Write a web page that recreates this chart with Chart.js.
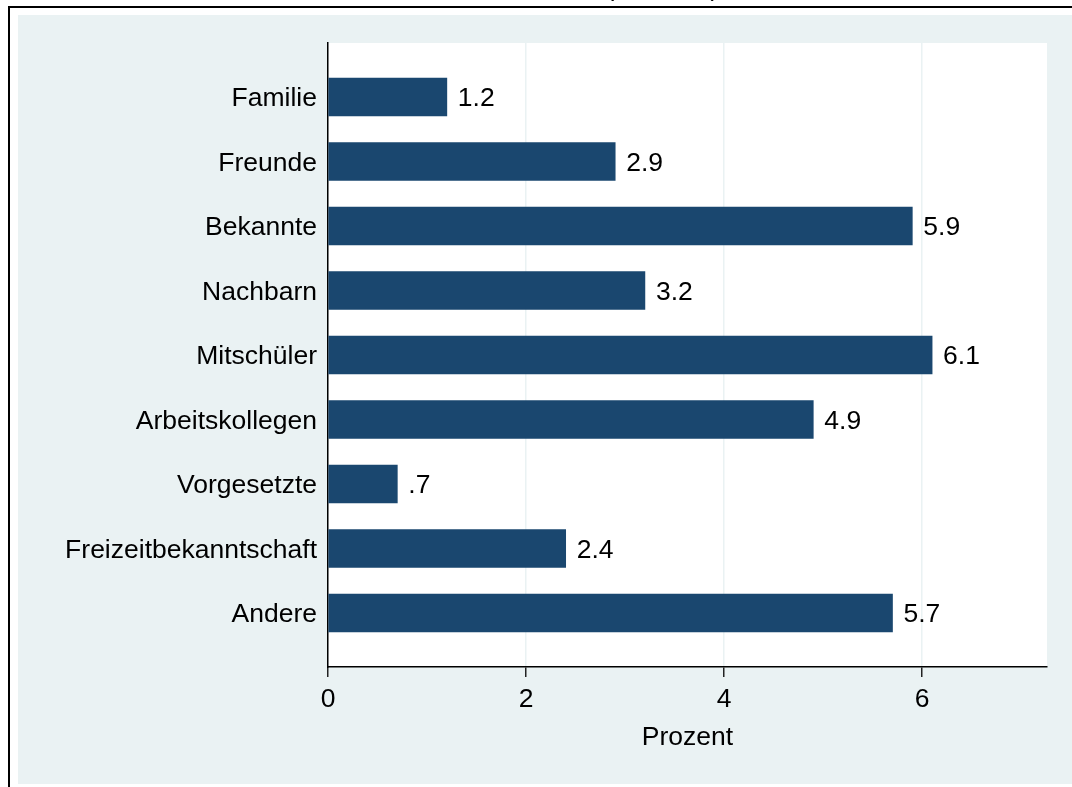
<!DOCTYPE html>
<html>
<head>
<meta charset="utf-8">
<script src="https://cdn.jsdelivr.net/npm/chart.js@4/dist/chart.umd.min.js"></script>
<style>
  html, body { margin: 0; padding: 0; background: #ffffff; }
  #wrap { width: 1072px; height: 787px; position: relative; }
</style>
</head>
<body>
<div id="wrap"><canvas id="c" width="1072" height="787"></canvas></div>
<script>
const categories = ["Familie", "Freunde", "Bekannte", "Nachbarn", "Mitschüler",
  "Arbeitskollegen", "Vorgesetzte", "Freizeitbekanntschaft", "Andere"];
const prozent = [1.2, 2.9, 5.9, 3.2, 6.1, 4.9, 0.7, 2.4, 5.7];
const xTicks = [0, 2, 4, 6];
const xTitle = "Prozent";

const FONT = '"Liberation Sans", Arial, Helvetica, sans-serif';
const FS = 26.5;
const BG = '#EAF2F3';
const BAR = '#1A476F';

function fmt(v) {
  const s = v.toFixed(1);
  return s.startsWith('0.') ? s.slice(1) : s;
}

const framePlugin = {
  id: 'frame',
  beforeDraw(chart) {
    const ctx = chart.ctx;
    const a = chart.chartArea;
    ctx.save();
    ctx.fillStyle = '#ffffff';
    ctx.fillRect(0, 0, chart.width, chart.height);
    ctx.fillStyle = BG;
    ctx.fillRect(18, 15, chart.width - 18, 769);
    ctx.fillStyle = '#ffffff';
    ctx.fillRect(a.left, a.top, a.right - a.left, a.bottom - a.top);
    // outer frame (top and left edges visible)
    ctx.fillStyle = '#000000';
    ctx.fillRect(8, 6, chart.width - 8, 2);
    ctx.fillRect(8, 6, 2, chart.height - 6);
    // cut-off title parentheses
    ctx.font = FS + 'px ' + FONT;
    ctx.textBaseline = 'alphabetic';
    ctx.textAlign = 'center';
    ctx.fillStyle = '#000000';
    ctx.fillText('(', 610, -4);
    ctx.fillText(')', 715, -4);
    ctx.restore();
  },
  afterDatasetsDraw(chart) {
    const ctx = chart.ctx;
    const meta = chart.getDatasetMeta(0);
    ctx.save();
    ctx.font = FS + 'px ' + FONT;
    ctx.fillStyle = '#000000';
    ctx.textAlign = 'left';
    ctx.textBaseline = 'middle';
    meta.data.forEach((bar, i) => {
      ctx.fillText(fmt(prozent[i]), bar.x + 11, bar.y + 2);
    });
    ctx.restore();
  }
};

new Chart(document.getElementById('c'), {
  type: 'bar',
  data: {
    datasets: [{
      data: prozent.map((v, i) => ({ x: v, y: i + 1 })),
      backgroundColor: BAR,
      borderWidth: 0,
      barThickness: 38
    }]
  },
  options: {
    indexAxis: 'y',
    responsive: false,
    animation: false,
    devicePixelRatio: 1,
    layout: { padding: { top: 43, right: 25, left: 0, bottom: 0 } },
    plugins: { legend: { display: false }, tooltip: { enabled: false }, title: { display: false } },
    scales: {
      x: {
        type: 'linear',
        position: 'bottom',
        min: 0,
        max: 7.26,
        offset: false,
        afterBuildTicks(scale) { scale.ticks = xTicks.map(v => ({ value: v })); },
        afterFit(scale) { scale.height = 120; },
        ticks: {
          font: { family: FONT, size: FS },
          color: '#000000',
          padding: 7,
          maxRotation: 0,
          callback: v => String(v)
        },
        grid: {
          color: BG,
          lineWidth: 1.5,
          tickColor: '#222222',
          tickLength: 10,
          drawTicks: true
        },
        border: { display: true, color: '#000000', width: 1.5 },
        title: {
          display: true,
          text: xTitle,
          font: { family: FONT, size: FS },
          color: '#000000',
          padding: { top: 0, bottom: 33 }
        }
      },
      y: {
        type: 'linear',
        position: 'left',
        reverse: true,
        offset: false,
        min: 0.1628,
        max: 9.8372,
        afterBuildTicks(scale) { scale.ticks = categories.map((c, i) => ({ value: i + 1 })); },
        afterFit(scale) { scale.width = 328; },
        ticks: {
          font: { family: FONT, size: FS },
          color: '#000000',
          padding: 11,
          labelOffset: 2,
          autoSkip: false,
          callback: v => categories[Math.round(v) - 1]
        },
        grid: { display: false, drawTicks: false, offset: false },
        border: { display: true, color: '#000000', width: 1.5 }
      }
    }
  },
  plugins: [framePlugin]
});
</script>
</body>
</html>
